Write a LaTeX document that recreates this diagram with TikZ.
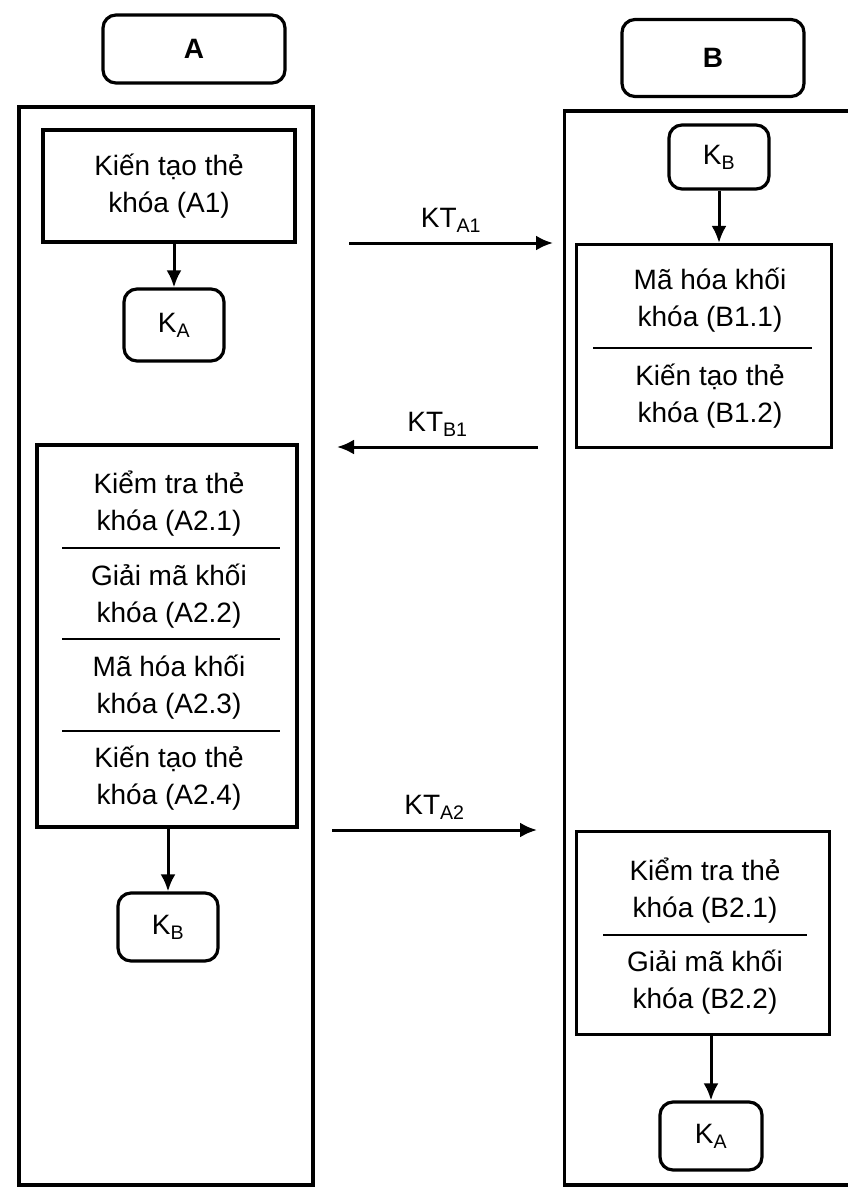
\documentclass[tikz,border=0pt]{standalone}
\usepackage{fontspec}
\setmainfont{Liberation Sans}
\usepackage{tikz}
\usetikzlibrary{arrows.meta,positioning}
\tikzset{
  lane/.style={
    rectangle,
    draw=black,
    line width=3.2pt,
    inner sep=0pt
  },
  head/.style={
    rectangle,
    rounded corners=13pt,
    draw=black,
    line width=3.2pt,
    minimum width=182pt,
    minimum height=68pt,
    font=\fontsize{28}{34}\selectfont\bfseries
  },
  stepbox/.style={
    rectangle,
    draw=black,
    line width=3.2pt,
    align=center,
    font=\fontsize{28}{37}\selectfont
  },
  steptext/.style={
    align=center,
    inner sep=0pt,
    font=\fontsize{28}{37}\selectfont
  },
  keybox/.style={
    rectangle,
    rounded corners=13pt,
    draw=black,
    line width=3.2pt,
    minimum width=100pt,
    minimum height=68pt,
    font=\fontsize{28}{34}\selectfont
  },
  sepline/.style={
    line width=1.6pt,
    draw=black
  },
  flow/.style={
    -{Latex[length=17pt,width=15pt]},
    line width=3pt,
    draw=black
  },
  msglabel/.style={
    above=9pt,
    inner sep=0pt,
    font=\fontsize{28}{34}\selectfont
  }
}

\begin{document}
\begin{tikzpicture}[x=1pt,y=-1pt]
  \useasboundingbox (0,0) rectangle (847,1187);

  % the two parties
  \node[head] (headA) at (194,49) {A};
  \node[head,minimum height=77pt] (headB) at (713,58) {B};
  \node[lane,minimum width=294pt,minimum height=1078pt] (laneA) at (166,646) {};
  \node[lane,minimum width=305pt,minimum height=1074pt] (laneB) at (717,648) {};

  % side A
  \node[stepbox,minimum width=252pt,minimum height=112pt] (a1) at (169,186) {Kiến tạo thẻ\\khóa (A1)};
  \node[keybox,minimum height=72pt] (ka) at (174,325) {K\textsubscript{A}};
  \draw[flow] (a1.south -| ka) -- (ka.north);

  \node[stepbox,minimum width=260pt,minimum height=382pt] (a2) at (167,636) {};
  \node[steptext] (a21) at (169,504) {Kiểm tra thẻ\\khóa (A2.1)};
  \node[steptext] (a22) at (169,596) {Giải mã khối\\khóa (A2.2)};
  \node[steptext] (a23) at (169,687) {Mã hóa khối\\khóa (A2.3)};
  \node[steptext] (a24) at (169,778) {Kiến tạo thẻ\\khóa (A2.4)};
  \draw[sepline] (62,548) -- (280,548);
  \draw[sepline] (62,639) -- (280,639);
  \draw[sepline] (62,731) -- (280,731);
  \node[keybox] (kbA) at (168,927) {K\textsubscript{B}};
  \draw[flow] (a2.south -| kbA) -- (kbA.north);

  % side B
  \node[keybox,minimum height=64pt] (kbB) at (719,157) {K\textsubscript{B}};
  \node[stepbox,minimum width=255pt,minimum height=203pt] (b1) at (704,346) {};
  \node[steptext] (b11) at (710,300) {Mã hóa khối\\khóa (B1.1)};
  \node[steptext] (b12) at (710,396) {Kiến tạo thẻ\\khóa (B1.2)};
  \draw[sepline] (593,348) -- (812,348);
  \draw[flow] (kbB.south) -- (kbB.south |- b1.north);

  \node[stepbox,minimum width=253pt,minimum height=203pt] (b2) at (703,933) {};
  \node[steptext] (b21) at (705,891) {Kiểm tra thẻ\\khóa (B2.1)};
  \node[steptext] (b22) at (705,982) {Giải mã khối\\khóa (B2.2)};
  \draw[sepline] (603,935) -- (807,935);
  \node[keybox,minimum width=102pt] (kaB) at (711,1136) {K\textsubscript{A}};
  \draw[flow] (b2.south -| kaB) -- (kaB.north);

  % messages
  \coordinate (m1s) at (349,243);
  \coordinate (m1e) at (553,243);
  \coordinate (m2s) at (538,447);
  \coordinate (m2e) at (337,447);
  \coordinate (m3s) at (332,830);
  \coordinate (m3e) at (537,830);
  \draw[flow] (m1s) -- node[msglabel] (kta1) {KT\textsubscript{A1}} (m1e);
  \draw[flow] (m2s) -- node[msglabel] (ktb1) {KT\textsubscript{B1}} (m2e);
  \draw[flow] (m3s) -- node[msglabel] (kta2) {KT\textsubscript{A2}} (m3e);
\end{tikzpicture}
\end{document}
